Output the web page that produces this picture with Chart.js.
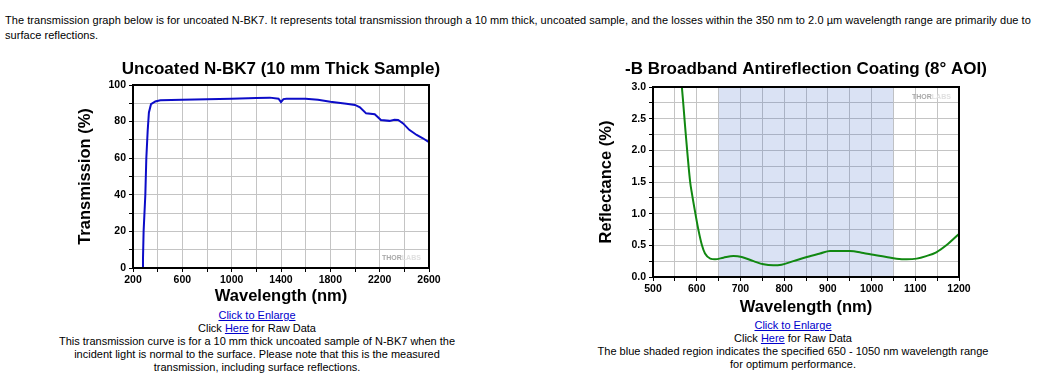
<!DOCTYPE html>
<html lang="en">
<head>
    <meta charset="UTF-8">
    <title>N-BK7 Transmission and -B AR Coating Reflectance</title>
    <script src="https://cdn.jsdelivr.net/npm/chart.js"></script>
    <style>
        body {
            margin: 0;
            width: 1048px;
            height: 382px;
            background: #fff;
            font-family: "Liberation Sans", Arial, sans-serif;
            font-size: 11px;
            color: #000;
            position: relative;
            overflow: hidden;
        }
        .intro {
            position: absolute;
            left: 5px;
            top: 13px;
            line-height: 15px;
            white-space: nowrap;
            letter-spacing: 0.04px;
        }
        .caption {
            position: absolute;
            width: 500px;
            text-align: center;
            line-height: 13px;
            white-space: nowrap;
            letter-spacing: 0px;
        }
        .caption a { color: #0000cc; text-decoration: underline; }
        canvas { position: absolute; }
    </style>
</head>
<body>
    <div class="intro">The transmission graph below is for uncoated N-BK7. It represents total transmission through a 10 mm thick, uncoated sample, and the losses within the 350 nm to 2.0 µm wavelength range are primarily due to<br>surface reflections.</div>

    <canvas id="bk7Chart" width="442" height="250" style="left:60px; top:55px;"></canvas>
    <canvas id="arChart" width="452" height="261" style="left:580px; top:55px;"></canvas>

    <div class="caption" style="left:7px; top:309px;">
        <a href="#">Click to Enlarge</a><br>
        Click <a href="#">Here</a> for Raw Data<br>
        This transmission curve is for a 10 mm thick uncoated sample of N-BK7 when the<br>
        incident light is normal to the surface. Please note that this is the measured<br>
        transmission, including surface reflections.
    </div>
    <div class="caption" style="left:543px; top:319px;">
        <a href="#">Click to Enlarge</a><br>
        Click <a href="#">Here</a> for Raw Data<br>
        The blue shaded region indicates the specified 650 - 1050 nm wavelength range<br>
        for optimum performance.
    </div>

    <script>
        // uncoated N-BK7, 10 mm thick
        var bk7Wavelength = [200, 273, 281, 286, 300, 308, 319, 329, 346, 381, 421, 600, 800, 1000, 1200, 1310, 1380, 1400, 1420, 1445, 1600, 1700, 1800, 1930, 2000, 2040, 2090, 2160, 2210, 2280, 2320, 2350, 2390, 2440, 2500, 2550, 2600];
        var bk7Transmission = [0, 0, 5, 20, 40, 60, 75, 85, 89.5, 91, 91.7, 92, 92.2, 92.5, 92.9, 93.1, 92.5, 90.7, 92.3, 92.5, 92.5, 92, 90.9, 89.8, 89.1, 87.8, 84.5, 84, 80.9, 80.4, 81, 80.9, 79, 75.5, 72.7, 70.9, 68.7];
        var bk7XLabels = [200, 600, 1000, 1400, 1800, 2200, 2600];
        var bk7YLabels = [0, 20, 40, 60, 80, 100];

        // -B broadband AR coating, 8 deg AOI
        var arWavelength = [562, 566, 575, 585, 589, 597, 604, 612, 619, 631, 642, 661, 684, 703, 730, 753, 775, 794, 821, 852, 882, 905, 928, 950, 981, 1004, 1034, 1057, 1080, 1103, 1125, 1148, 1171, 1200];
        var arReflectance = [3.25, 3.0, 2.25, 1.5, 1.32, 1.0, 0.74, 0.5, 0.37, 0.29, 0.28, 0.305, 0.33, 0.315, 0.25, 0.2, 0.185, 0.195, 0.25, 0.315, 0.37, 0.41, 0.41, 0.41, 0.38, 0.35, 0.315, 0.29, 0.28, 0.29, 0.33, 0.39, 0.5, 0.68];
        var arShadeRange = [650, 1050];
        var arXLabels = [500, 600, 700, 800, 900, 1000, 1100, 1200];
        var arYLabels = ['0.0', '0.5', '1.0', '1.5', '2.0', '2.5', '3.0'];

        var FONT = "'Liberation Sans', Arial, sans-serif";

        function points(xs, ys) {
            return xs.map(function (x, i) { return { x: x, y: ys[i] }; });
        }

        // black box round the plot area plus the faint maker's mark
        var framePlugin = {
            id: 'frame',
            afterDraw: function (chart, args, opts) {
                var a = chart.chartArea, ctx = chart.ctx;
                ctx.save();
                ctx.strokeStyle = '#000';
                ctx.lineWidth = 2;
                ctx.strokeRect(a.left, a.top, a.right - a.left, a.bottom - a.top);
                ctx.font = 'bold 7px ' + FONT;
                ctx.textBaseline = 'middle';
                var x = a.right - 47, y = opts.markTop ? a.top + 10 : a.bottom - 10;
                ctx.fillStyle = '#a8a8a8';
                ctx.fillText('THOR', x, y);
                ctx.fillStyle = '#e0e0e0';
                ctx.fillText('LABS', x + ctx.measureText('THOR').width, y);
                ctx.restore();
            }
        };

        function axisOptions(cfg) {
            return {
                x: {
                    type: 'linear',
                    min: cfg.xMin, max: cfg.xMax,
                    grid: { color: '#c4c4c4', tickColor: '#000', tickLength: 4 },
                    border: { color: '#000', width: 2 },
                    ticks: {
                        stepSize: cfg.xStep, autoSkip: false, maxRotation: 0, padding: 2,
                        color: '#000', font: { family: FONT, size: 10.5, weight: 'bold' },
                        callback: function (v) { return cfg.xLabels.indexOf(v) >= 0 ? String(v) : ''; }
                    },
                    title: {
                        display: true, text: 'Wavelength (nm)', color: '#000',
                        font: { family: FONT, size: 16.5, weight: 'bold', lineHeight: 1 },
                        padding: { top: 0, bottom: 0 }
                    },
                    afterFit: function (s) { s.height = cfg.xHeight; }
                },
                y: {
                    min: cfg.yMin, max: cfg.yMax,
                    grid: { color: '#c4c4c4', tickColor: '#000', tickLength: 4 },
                    border: { color: '#000', width: 2 },
                    ticks: {
                        stepSize: cfg.yStep, autoSkip: false, padding: 3,
                        color: '#000', font: { family: FONT, size: 10.5, weight: 'bold' },
                        callback: cfg.yCallback
                    },
                    title: {
                        display: true, text: cfg.yTitle, color: '#000',
                        font: { family: FONT, size: 16.5, weight: 'bold', lineHeight: 1 },
                        padding: { top: cfg.yTitlePad, bottom: 0 }
                    },
                    afterFit: function (s) { s.width = 73; }
                },
                // empty twin on the right so the title centres over the plot
                yPad: {
                    position: 'right', display: true,
                    grid: { display: false }, border: { display: false },
                    ticks: { display: false },
                    afterFit: function (s) { s.width = 73; }
                }
            };
        }

        new Chart(document.getElementById('bk7Chart'), {
            type: 'line',
            data: {
                datasets: [{
                    data: points(bk7Wavelength, bk7Transmission),
                    borderColor: '#0c0cc8',
                    borderWidth: 2,
                    pointRadius: 0,
                    tension: 0
                }]
            },
            options: {
                responsive: false,
                animation: false,
                layout: { padding: 0 },
                plugins: {
                    legend: { display: false },
                    tooltip: { enabled: false },
                    title: {
                        display: true, text: 'Uncoated N-BK7 (10 mm Thick Sample)', color: '#000',
                        font: { family: FONT, size: 17, weight: 'bold', lineHeight: 1 },
                        padding: { top: 6, bottom: 7 }
                    },
                    frame: { markTop: false }
                },
                scales: axisOptions({
                    xMin: 200, xMax: 2600, xStep: 200, xLabels: bk7XLabels, xHeight: 37,
                    yMin: 0, yMax: 100, yStep: 10,
                    yCallback: function (v) { return bk7YLabels.indexOf(v) >= 0 ? String(v) : ''; },
                    yTitle: 'Transmission (%)', yTitlePad: 17
                })
            },
            plugins: [framePlugin]
        });

        new Chart(document.getElementById('arChart'), {
            type: 'line',
            data: {
                datasets: [{
                    data: points(arWavelength, arReflectance),
                    borderColor: '#118811',
                    borderWidth: 2,
                    pointRadius: 0,
                    cubicInterpolationMode: 'monotone',
                    order: 0
                }, {
                    // shaded design band
                    data: points(arShadeRange, [3, 3]),
                    borderWidth: 0,
                    pointRadius: 0,
                    backgroundColor: 'rgba(70, 110, 200, 0.2)',
                    fill: 'origin',
                    order: 1
                }]
            },
            options: {
                responsive: false,
                animation: false,
                layout: { padding: 0 },
                plugins: {
                    legend: { display: false },
                    tooltip: { enabled: false },
                    title: {
                        display: true, text: '-B Broadband Antireflection Coating (8° AOI)', color: '#000',
                        font: { family: FONT, size: 17, weight: 'bold', lineHeight: 1 },
                        padding: { top: 6, bottom: 9 }
                    },
                    frame: { markTop: true }
                },
                scales: axisOptions({
                    xMin: 500, xMax: 1200, xStep: 50, xLabels: arXLabels, xHeight: 39,
                    yMin: 0, yMax: 3, yStep: 0.25,
                    yCallback: function (v) {
                        var s = v.toFixed(1);
                        return (v * 2) % 1 === 0 && arYLabels.indexOf(s) >= 0 ? s : '';
                    },
                    yTitle: 'Reflectance (%)', yTitlePad: 18.5
                })
            },
            plugins: [framePlugin]
        });
    </script>
</body>
</html>
